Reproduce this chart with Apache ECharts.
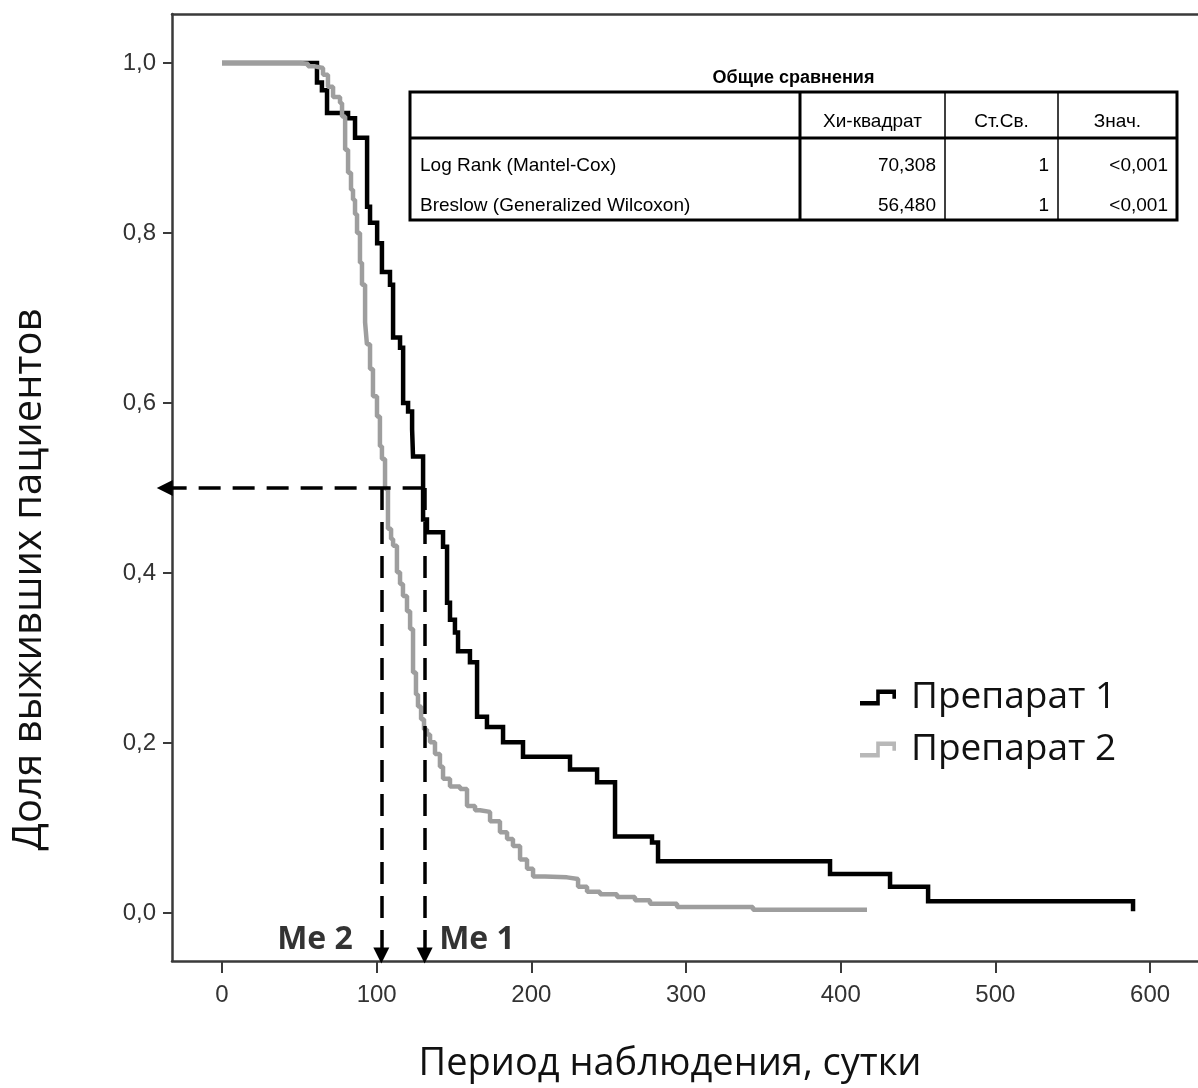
<!DOCTYPE html>
<html><head><meta charset="utf-8">
<script src="https://cdn.jsdelivr.net/npm/echarts@6/dist/echarts.min.js"></script>
<style>html,body{margin:0;padding:0;background:#fff}#c{width:1198px;height:1088px}</style>
</head><body><div id="c"></div>
<script>
// ---- data ----
const seriesNames = ['Препарат 1', 'Препарат 2'];
// Препарат 1 (black) Kaplan–Meier: time (days) and survival after each event
const time1 = [0, 61.4, 64.6, 67.9, 81.5, 86.0, 93.8, 95.7, 100.3, 103.4, 108.6, 110.6, 115.1, 117.1, 120.3, 122.9, 123.5, 130.0, 132.5, 142.9, 145.5, 147.4, 150.6, 152.6, 160.3, 164.9, 171.3, 181.7, 194.6, 225.0, 242.5, 254.1, 278.0, 281.9, 393.1, 431.9, 456.5, 589.0];
const surv1 = [1.0, 0.977, 0.968, 0.941, 0.935, 0.912, 0.831, 0.812, 0.788, 0.754, 0.739, 0.677, 0.665, 0.600, 0.590, 0.569, 0.537, 0.463, 0.448, 0.431, 0.365, 0.345, 0.330, 0.308, 0.295, 0.231, 0.219, 0.201, 0.184, 0.169, 0.154, 0.090, 0.083, 0.061, 0.046, 0.031, 0.014, 0.002];
// Препарат 2 (grey)
const time2 = [0, 44.0, 50.4, 55.6, 60.1, 65.3, 68.5, 71.8, 76.3, 77.6, 79.6, 81.5, 83.4, 84.7, 86.0, 87.3, 89.2, 90.5, 92.5, 93.7, 95.7, 97.6, 100.2, 102.1, 103.4, 105.4, 107.3, 109.3, 110.6, 113.1, 115.1, 117.0, 119.6, 121.6, 123.5, 125.4, 126.7, 128.7, 130.6, 132.5, 134.5, 137.7, 140.9, 142.9, 147.4, 153.9, 158.4, 163.6, 166.8, 173.3, 179.7, 184.3, 188.1, 192.7, 197.2, 201.1, 208.8, 223.1, 230.2, 236.0, 244.4, 255.4, 267.0, 276.7, 294.2, 343.3, 417.0];
const surv2 = [1.0, 1.0, 0.999, 0.996, 0.994, 0.986, 0.972, 0.960, 0.953, 0.937, 0.898, 0.871, 0.851, 0.839, 0.822, 0.800, 0.765, 0.739, 0.695, 0.669, 0.640, 0.608, 0.584, 0.549, 0.534, 0.499, 0.452, 0.440, 0.432, 0.401, 0.387, 0.373, 0.355, 0.334, 0.283, 0.257, 0.243, 0.228, 0.216, 0.210, 0.201, 0.187, 0.172, 0.158, 0.149, 0.146, 0.126, 0.121, 0.119, 0.108, 0.095, 0.087, 0.079, 0.063, 0.052, 0.043, 0.042, 0.040, 0.031, 0.025, 0.022, 0.019, 0.015, 0.011, 0.007, 0.004, 0.004];
const medians = [131, 103];          // Me 1, Me 2
const medianLabels = ['Me 1', 'Me 2'];
const medianLevel = 0.5;
const xTicks = [0, 100, 200, 300, 400, 500, 600];
const yTicks = [0, 0.2, 0.4, 0.6, 0.8, 1.0];
const xTitle = 'Период наблюдения, сутки';
const yTitle = 'Доля выживших пациентов';
const tableTitle = 'Общие сравнения';
const tableHeaders = ['', 'Хи-квадрат', 'Ст.Св.', 'Знач.'];
const tableRows = [
  ['Log Rank (Mantel-Cox)', '70,308', '1', '<0,001'],
  ['Breslow (Generalized Wilcoxon)', '56,480', '1', '<0,001']
];

// ---- chart ----
const XMIN = -32.33, XMAX = 631.0, YMIN = -0.0564, YMAX = 1.0576;
const ARROW_X = -37, ARROW_Y = -0.050, ME_LABEL_Y = -0.031;
const pairs = (t, s) => t.map((v, i) => [v, s[i]]);
const stepIcon = 'path://M0,16 L18,16 L18,6 L40,6 L40,14 L36,14 L36,10 L22,10 L22,20 L0,20 Z';
const axisCol = '#3a3a3a';

// table graphic
const colX = [410, 800, 945, 1058, 1177];
const rowY = [92, 138, 220];
const rowTextY = [166, 206];
const tg = [];
tg.push({type: 'text', x: (colX[0] + colX[4]) / 2, y: 78, style: {text: tableTitle, fill: '#000', font: 'bold 18px "Liberation Sans", Arial', align: 'center', verticalAlign: 'middle'}});
tg.push({type: 'rect', shape: {x: colX[0], y: rowY[0], width: colX[4] - colX[0], height: rowY[2] - rowY[0]}, style: {fill: 'none', stroke: '#000', lineWidth: 3}});
tg.push({type: 'line', shape: {x1: colX[0], y1: rowY[1], x2: colX[4], y2: rowY[1]}, style: {stroke: '#000', lineWidth: 3}});
tg.push({type: 'line', shape: {x1: colX[1], y1: rowY[0], x2: colX[1], y2: rowY[2]}, style: {stroke: '#000', lineWidth: 3}});
[colX[2], colX[3]].forEach(x => tg.push({type: 'line', shape: {x1: x, y1: rowY[0], x2: x, y2: rowY[2]}, style: {stroke: '#000', lineWidth: 1.5}}));
const tfont = '19px "Liberation Sans", Arial';
tableHeaders.forEach((h, i) => {
  if (!h) return;
  tg.push({type: 'text', x: (colX[i] + colX[i + 1]) / 2, y: 122, style: {text: h, fill: '#000', font: tfont, align: 'center', verticalAlign: 'middle'}});
});
tableRows.forEach((r, j) => {
  r.forEach((cell, i) => {
    const left = i === 0;
    tg.push({type: 'text', x: left ? colX[0] + 10 : colX[i + 1] - 9, y: rowTextY[j], style: {text: cell, fill: '#000', font: tfont, align: left ? 'left' : 'right', verticalAlign: 'middle'}});
  });
});

const chart = echarts.init(document.getElementById('c'), null, {renderer: 'canvas'});
chart.setOption({
  animation: false,
  backgroundColor: '#fff',
  grid: {left: 172, right: -10, top: 14, bottom: 126, show: false},
  xAxis: [{
    type: 'value', min: XMIN, max: XMAX,
    splitLine: {show: false},
    axisLine: {show: true, onZero: false, lineStyle: {color: axisCol, width: 2.5}},
    axisTick: {show: true, length: 12, customValues: xTicks, lineStyle: {color: axisCol, width: 2}},
    axisLabel: {customValues: xTicks, margin: 22, color: '#333', fontSize: 24, fontFamily: '"Liberation Sans", Arial'},
    name: xTitle, nameLocation: 'middle', nameGap: 84,
    nameTextStyle: {fontSize: 38, color: '#111', fontFamily: '"Open Sans"', padding: [0, 30, 0, 0]}
  }, {
    type: 'value', position: 'top', min: XMIN, max: XMAX,
    splitLine: {show: false}, axisTick: {show: false}, axisLabel: {show: false},
    axisLine: {show: true, onZero: false, lineStyle: {color: axisCol, width: 2.5}}
  }],
  yAxis: {
    type: 'value', min: YMIN, max: YMAX,
    splitLine: {show: false},
    axisLine: {show: true, onZero: false, lineStyle: {color: axisCol, width: 2.5}},
    axisTick: {show: true, length: 9, customValues: yTicks, lineStyle: {color: axisCol, width: 2}},
    axisLabel: {customValues: yTicks, margin: 16, color: '#333', fontSize: 24, fontFamily: '"Liberation Sans", Arial',
      formatter: v => v.toFixed(1).replace('.', ',')},
    name: yTitle, nameLocation: 'middle', nameGap: 122, nameRotate: 90,
    nameTextStyle: {fontSize: 40, color: '#111', fontFamily: '"Open Sans"', padding: [0, 184, 0, 0]}
  },
  legend: {
    data: seriesNames, orient: 'vertical', left: 855, top: 674, itemGap: 15,
    icon: stepIcon, itemWidth: 36, itemHeight: 16, symbolKeepAspect: false,
    itemStyle: {borderWidth: 0},
    textStyle: {fontSize: 37, color: '#111', fontFamily: '"Open Sans"', padding: [0, 0, 0, 10]}
  },
  series: [
    {name: seriesNames[0], type: 'line', step: 'end', showSymbol: false, symbol: 'none',
     color: '#000', itemStyle: {color: '#000'}, lineStyle: {color: '#000', width: 4.5, join: 'miter'},
     data: pairs(time1, surv1), z: 2},
    {name: seriesNames[1], type: 'line', step: 'end', showSymbol: false, symbol: 'none',
     color: '#9e9e9e', itemStyle: {color: '#b8b8b8'}, lineStyle: {color: '#9e9e9e', width: 4.5},
     data: pairs(time2, surv2), z: 3},
    {name: 'medianLines', type: 'lines', coordinateSystem: 'cartesian2d', clip: false, silent: true, z: 4,
     color: '#000', itemStyle: {color: '#000'},
     symbol: ['none', 'triangle'], symbolSize: [0, 16],
     lineStyle: {color: '#000', width: 3.5, type: [22, 12], opacity: 1},
     data: [
       {coords: [[medians[0], medianLevel], [ARROW_X, medianLevel]]},
       {coords: [[medians[0], medianLevel], [medians[0], ARROW_Y]]},
       {coords: [[medians[1], medianLevel], [medians[1], ARROW_Y]]}
     ]},
    {name: 'medianLabels', type: 'scatter', clip: false, silent: true, z: 5,
     symbolSize: 1, itemStyle: {color: 'rgba(0,0,0,0)'},
     data: [
       {value: [medians[0], ME_LABEL_Y], label: {show: true, position: 'right', distance: 14, formatter: medianLabels[0], color: '#000', fontSize: 32, fontWeight: 'bold', fontFamily: '"Open Sans"'}},
       {value: [medians[1], ME_LABEL_Y], label: {show: true, position: 'left', distance: 28, formatter: medianLabels[1], color: '#000', fontSize: 32, fontWeight: 'bold', fontFamily: '"Open Sans"'}}
     ]}
  ],
  graphic: tg
});
</script>
</body></html>
